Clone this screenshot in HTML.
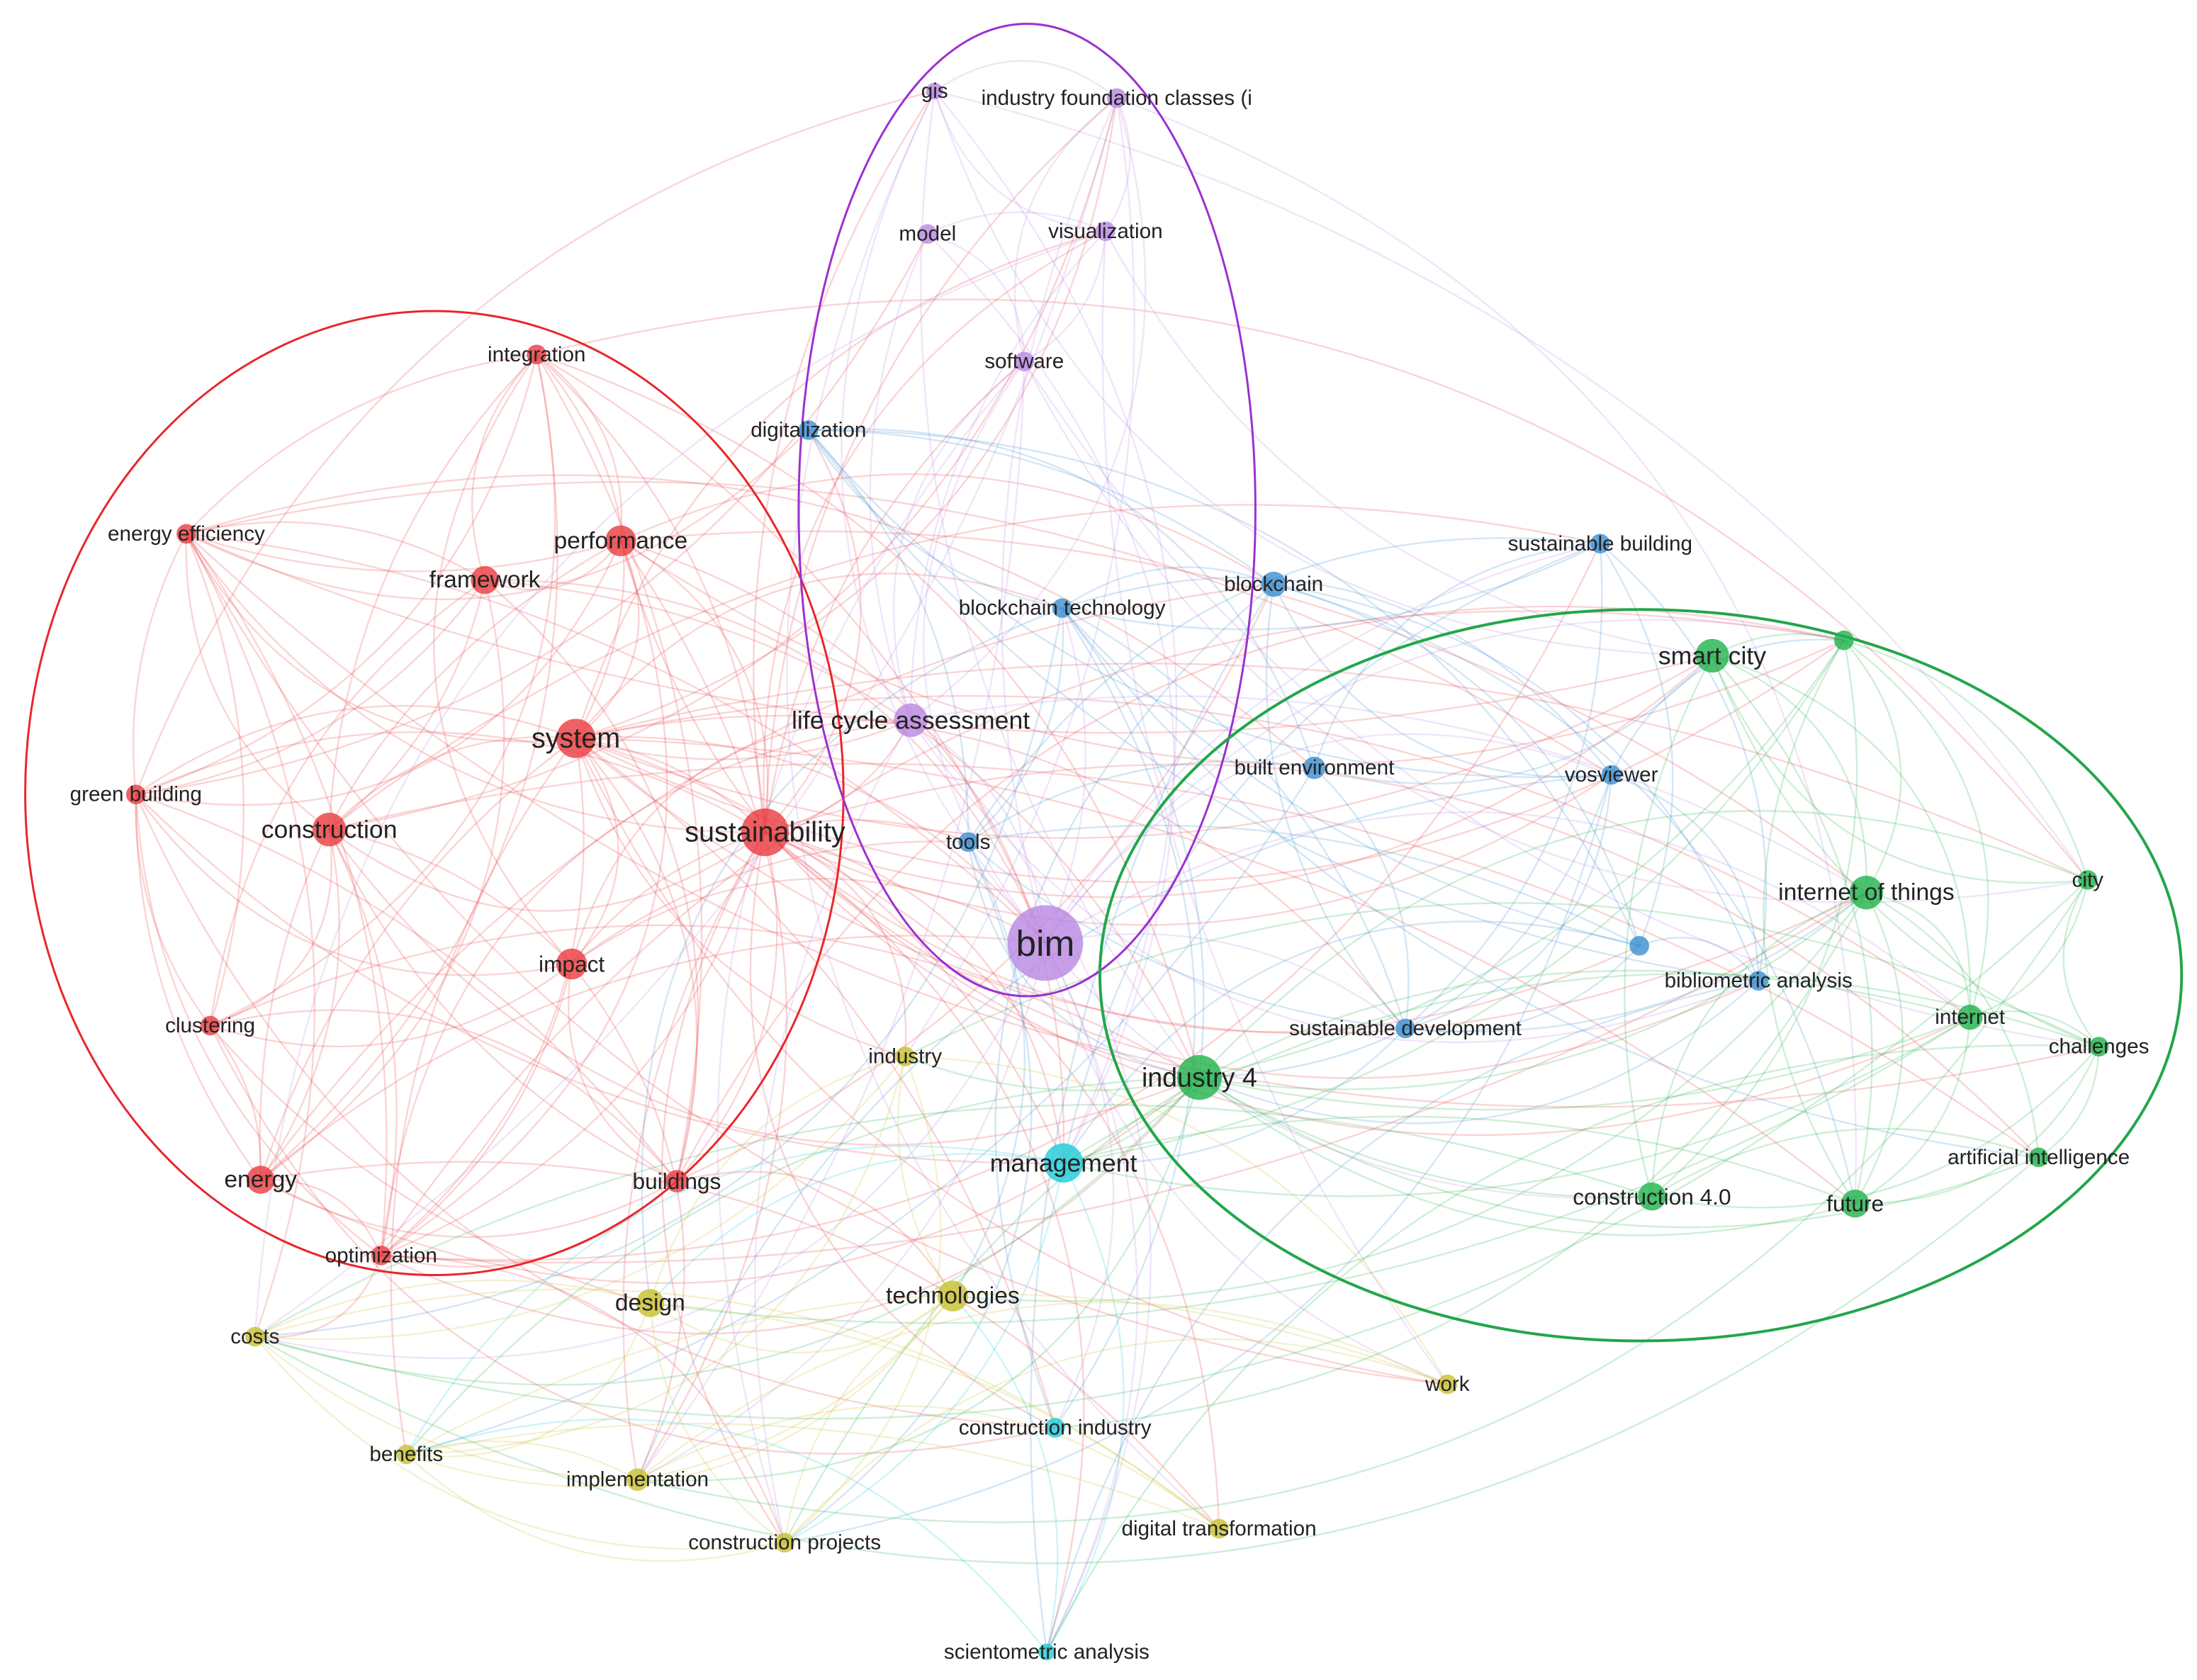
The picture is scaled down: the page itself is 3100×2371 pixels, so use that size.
<!DOCTYPE html>
<html><head><meta charset="utf-8"><style>
html,body{margin:0;padding:0;background:#fff;width:3100px;height:2371px;overflow:hidden}
svg{display:block}
text{font-family:"Liberation Sans","DejaVu Sans",sans-serif;fill:#222;text-anchor:middle;dominant-baseline:central}
</style></head><body>
<svg id="s" width="3100" height="2371" viewBox="0 0 1568 1199" preserveAspectRatio="none" xmlns="http://www.w3.org/2000/svg">
<g id="edges" fill="none" stroke-width="1.2"></g>
<ellipse cx="310" cy="566" rx="292" ry="344" fill="none" stroke="#e8262b" stroke-width="1.5"/>
<ellipse cx="733" cy="364" rx="163" ry="347" fill="none" stroke="#9b30d0" stroke-width="1.5"/>
<ellipse cx="1171" cy="696" rx="386" ry="261" fill="none" stroke="#22a64a" stroke-width="2"/>
<g id="nodes"></g>
<g id="labels"></g>
</svg>
<script>
var C={r:"#ea3b3f",p:"#b987e2",b:"#3a8fd2",g:"#1fb24a",c:"#1ccbd9",y:"#c8bf2e"};
var N=[
["integration",383,253,7,"r",15],["energy efficiency",133,381,7,"r",15],["performance",443,386,11,"r",17],["framework",346,414,10,"r",17],["system",411,527,14,"r",20],["green building",97,567,7,"r",15],["construction",235,592,12,"r",18],["sustainability",546,594,17,"r",20],["impact",408,688,11,"r",16],["clustering",150,732,7,"r",15],["energy",186,842,10,"r",17],["buildings",483,843,8,"r",16],["optimization",272,896,7,"r",15],
["gis",667,65,6,"p",15],["industry foundation classes (i",797,70,7,"p",15],["model",662,167,7,"p",15],["visualization",789,165,7,"p",15],["software",731,258,7,"p",15],["life cycle assessment",650,514,12,"p",18],["bim",746,673,27,"p",26],
["digitalization",577,307,7,"b",15],["sustainable building",1142,388,7,"b",15],["blockchain",909,417,9,"b",15],["blockchain technology",758,434,7,"b",15],["built environment",938,548,8,"b",15],["vosviewer",1150,553,7,"b",15],["tools",691,601,7,"b",15],["",1170,675,7,"b",15],["bibliometric analysis",1255,700,7,"b",15],["sustainable development",1003,734,7,"b",15],
["smart city",1222,468,12,"g",18],["",1316,457,7,"g",15],["internet of things",1332,637,12,"g",17],["city",1490,628,7,"g",15],["internet",1406,726,9,"g",15],["challenges",1498,747,7,"g",15],["industry 4",856,769,16,"g",19],["artificial intelligence",1455,826,7,"g",15],["construction 4.0",1179,854,10,"g",16],["future",1324,859,10,"g",16],
["management",759,830,14,"c",18],["construction industry",753,1019,7,"c",15],["scientometric analysis",747,1179,6,"c",15],
["industry",646,754,7,"y",15],["design",464,930,10,"y",17],["technologies",680,925,11,"y",17],["costs",182,954,7,"y",15],["work",1033,988,7,"y",15],["benefits",290,1038,7,"y",15],["implementation",455,1056,8,"y",15],["construction projects",560,1101,7,"y",15],["digital transformation",870,1091,7,"y",15]];
var ns="http://www.w3.org/2000/svg",E=document.getElementById("edges"),G=document.getElementById("nodes"),L=document.getElementById("labels");
var seed=7;function rnd(){seed=(seed*9301+49297)%233280;return seed/233280;}
var hubs=[19,7,36,40,4];
for(var i=0;i<N.length;i++){for(var j=i+1;j<N.length;j++){
 var a=N[i],b=N[j],same=a[4]==b[4],hub=hubs.indexOf(i)>=0||hubs.indexOf(j)>=0;
 var pr=same?0.7:(hub?0.4:0.07);
 if(rnd()<pr){var mx=(a[1]+b[1])/2,my=(a[2]+b[2])/2,dx=b[1]-a[1],dy=b[2]-a[2],k=(rnd()<0.5?-1:1)*(0.15+rnd()*0.25);
  var p=document.createElementNS(ns,"path");
  p.setAttribute("d","M"+a[1]+","+a[2]+" Q"+(mx-dy*k)+","+(my+dx*k)+" "+b[1]+","+b[2]);
  p.setAttribute("stroke",C[a[4]]);p.setAttribute("stroke-opacity",0.22);E.appendChild(p);}}}
N.forEach(function(n){var c=document.createElementNS(ns,"circle");c.setAttribute("cx",n[1]);c.setAttribute("cy",n[2]);c.setAttribute("r",n[3]);c.setAttribute("fill",C[n[4]]);c.setAttribute("fill-opacity",0.8);G.appendChild(c);
 if(n[0]){var t=document.createElementNS(ns,"text");t.setAttribute("x",n[1]);t.setAttribute("y",n[2]);t.setAttribute("font-size",n[5]);t.textContent=n[0];L.appendChild(t);}});
</script>
</body></html>
